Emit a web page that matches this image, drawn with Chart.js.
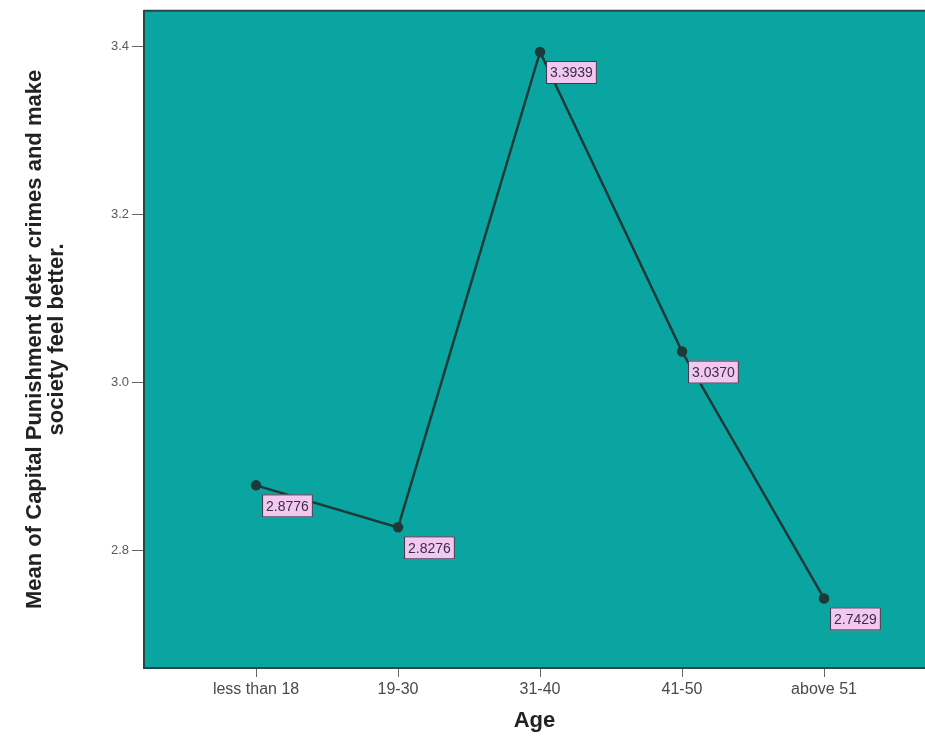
<!DOCTYPE html>
<html>
<head>
<meta charset="utf-8">
<script src="https://cdn.jsdelivr.net/npm/chart.js@4/dist/chart.umd.min.js"></script>
<style>
  html, body { margin: 0; padding: 0; background: #ffffff; }
  canvas { display: block; }
</style>
</head>
<body>
<canvas id="chart" width="925" height="738"></canvas>
<script>
// Categories (Age groups) and mean values
const ageGroups = ['less than 18', '19-30', '31-40', '41-50', 'above 51'];
const meanValues = [2.8776, 2.8276, 3.3939, 3.0370, 2.7429];
const yTicks = [2.8, 3.0, 3.2, 3.4];
const yTitle = ['Mean of Capital Punishment deter crimes and make', 'society feel better.'];
const xTitle = 'Age';

const teal = 'rgb(10, 165, 160)';
const lineColor = '#1d3938';

// Fond du cadre + bord du haut
const plotBackground = {
  id: 'plotBackground',
  beforeDraw(chart) {
    const { ctx, chartArea: a } = chart;
    ctx.save();
    ctx.fillStyle = teal;
    ctx.fillRect(a.left, a.top, a.right - a.left, a.bottom - a.top);
    ctx.strokeStyle = '#2b4544';
    ctx.lineWidth = 2;
    ctx.beginPath();
    ctx.moveTo(a.left, a.top);
    ctx.lineTo(a.right, a.top);
    ctx.stroke();
    ctx.restore();
  }
};

// Etiquettes roses des valeurs
const valueLabels = {
  id: 'valueLabels',
  afterDatasetsDraw(chart) {
    const ctx = chart.ctx;
    const meta = chart.getDatasetMeta(0);
    ctx.save();
    ctx.font = '14px "Liberation Sans", Arial, sans-serif';
    ctx.textBaseline = 'middle';
    meta.data.forEach(function (pt, i) {
      const txt = meanValues[i].toFixed(4);
      const w = ctx.measureText(txt).width + 8;
      const h = 23;
      const x = pt.x + 6;
      const y = pt.y + 9;
      ctx.fillStyle = '#f1c8ef';
      ctx.fillRect(x, y, w, h);
      ctx.strokeStyle = '#3a3a48';
      ctx.lineWidth = 1;
      ctx.strokeRect(x + 0.5, y + 0.5, w - 1, h - 1);
      ctx.fillStyle = '#3b2c4c';
      ctx.fillText(txt, x + 4, y + h / 2 + 1);
    });
    ctx.restore();
  }
};

new Chart(document.getElementById('chart').getContext('2d'), {
  type: 'line',
  data: {
    datasets: [{
      data: meanValues.map(function (v, i) { return { x: i, y: v }; }),
      borderColor: lineColor,
      backgroundColor: lineColor,
      borderWidth: 2.5,
      pointRadius: 4,
      pointBorderColor: lineColor,
      pointBackgroundColor: lineColor,
      tension: 0
    }]
  },
  options: {
    responsive: false,
    animation: false,
    layout: { autoPadding: false, padding: { top: 9, left: 0, right: 0, bottom: 0 } },
    plugins: {
      legend: { display: false },
      tooltip: { enabled: false }
    },
    scales: {
      x: {
        type: 'linear',
        min: -0.789,
        max: 4.711,
        afterBuildTicks: function (scale) {
          scale.ticks = ageGroups.map(function (_, i) { return { value: i }; });
        },
        afterFit: function (scale) { scale.height = 70; },
        ticks: {
          autoSkip: false,
          maxRotation: 0,
          padding: 3,
          color: '#4a4a4a',
          font: { family: '"Liberation Sans", Arial, sans-serif', size: 16 },
          callback: function (v) { return ageGroups[v]; }
        },
        grid: { drawOnChartArea: false, drawTicks: true, tickLength: 9, color: '#666', lineWidth: 1 },
        border: { display: true, color: '#2b4544', width: 2 },
        title: {
          display: true,
          text: xTitle,
          color: '#222',
          padding: { top: 0, bottom: 4 },
          font: { family: '"Liberation Sans", Arial, sans-serif', size: 22, weight: 'bold' }
        }
      },
      y: {
        type: 'linear',
        min: 2.66,
        max: 3.443,
        afterBuildTicks: function (scale) {
          scale.ticks = yTicks.map(function (v) { return { value: v }; });
        },
        afterFit: function (scale) { scale.width = 144; },
        ticks: {
          padding: 3,
          color: '#5a5a5a',
          font: { family: '"Liberation Sans", Arial, sans-serif', size: 13 },
          callback: function (v) { return v.toFixed(1); }
        },
        grid: { drawOnChartArea: false, drawTicks: true, tickLength: 12, color: '#666', lineWidth: 1 },
        border: { display: true, color: '#2b4544', width: 2 },
        title: {
          display: true,
          text: yTitle,
          color: '#222',
          padding: { top: 24, bottom: 0 },
          font: { family: '"Liberation Sans", Arial, sans-serif', size: 22, weight: 'bold', lineHeight: 1.0 }
        }
      }
    }
  },
  plugins: [plotBackground, valueLabels]
});
</script>
</body>
</html>
